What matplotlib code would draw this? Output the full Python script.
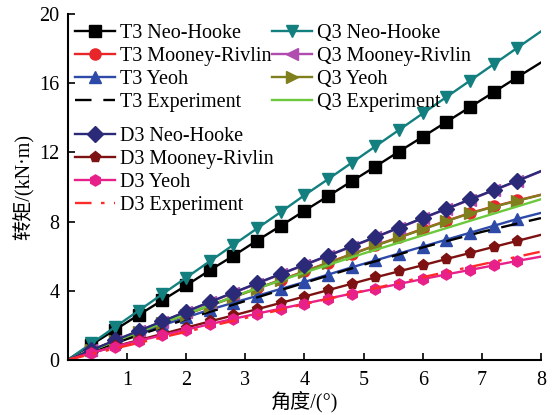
import matplotlib
matplotlib.use('Agg')
import matplotlib.pyplot as plt

# --- Data ---
angle = [0, 0.4, 0.8, 1.2, 1.6, 2.0, 2.4, 2.8, 3.2, 3.6, 4.0,
         4.4, 4.8, 5.2, 5.6, 6.0, 6.4, 6.8, 7.2, 7.6, 8.0]

t3_neo = [0, 0.88, 1.74, 2.60, 3.45, 4.30, 5.18, 6.02, 6.90, 7.75, 8.62,
          9.47, 10.33, 11.18, 12.05, 12.90, 13.76, 14.62, 15.48, 16.35, 17.20]
t3_mooney = [0, 0.57, 1.10, 1.62, 2.14, 2.64, 3.14, 3.64, 4.14, 4.62, 5.12,
             5.62, 6.12, 6.62, 7.09, 7.57, 8.04, 8.49, 8.87, 9.22, 9.55]
t3_yeoh = [0, 0.55, 1.05, 1.55, 2.00, 2.45, 2.90, 3.30, 3.70, 4.10, 4.50,
           4.93, 5.35, 5.75, 6.15, 6.55, 6.95, 7.35, 7.75, 8.15, 8.50]
t3_exp_x = [0, 1, 2, 3, 4, 5, 6, 7, 8]
t3_exp = [0, 1.20, 2.35, 3.40, 4.45, 5.50, 6.50, 7.40, 8.20]

q3_neo = [0, 0.95, 1.90, 2.85, 3.80, 4.75, 5.70, 6.65, 7.60, 8.55, 9.52,
          10.45, 11.40, 12.35, 13.30, 14.25, 15.20, 16.15, 17.10, 18.05, 19.00]
q3_mooney = [0, 0.54, 1.11, 1.66, 2.21, 2.77, 3.33, 3.87, 4.41, 4.95, 5.48,
             6.01, 6.55, 7.08, 7.63, 8.18, 8.72, 9.26, 9.80, 10.34, 10.90]
q3_yeoh = [0, 0.55, 1.08, 1.60, 2.12, 2.62, 3.12, 3.62, 4.12, 4.60, 5.10,
           5.60, 6.10, 6.60, 7.07, 7.55, 8.02, 8.47, 8.85, 9.20, 9.54]
q3_exp_x = [0, 1, 2, 3, 4, 5, 6, 7, 8]
q3_exp = [0, 1.35, 2.65, 3.90, 5.05, 6.15, 7.20, 8.25, 9.29]

d3_neo = [0, 0.56, 1.13, 1.68, 2.23, 2.79, 3.35, 3.89, 4.43, 4.97, 5.50,
          6.03, 6.57, 7.10, 7.65, 8.20, 8.74, 9.28, 9.82, 10.36, 10.92]
d3_mooney = [0, 0.40, 0.78, 1.14, 1.50, 1.86, 2.22, 2.57, 2.93, 3.29, 3.66,
             4.03, 4.40, 4.77, 5.12, 5.47, 5.83, 6.18, 6.53, 6.88, 7.23]
d3_yeoh = [0, 0.40, 0.76, 1.10, 1.42, 1.74, 2.06, 2.37, 2.67, 2.96, 3.25,
           3.54, 3.83, 4.11, 4.39, 4.67, 4.94, 5.20, 5.46, 5.72, 5.97]
d3_exp_x = [0, 1, 2, 3, 4, 5, 6, 7, 8]
d3_exp = [0, 0.82, 1.62, 2.42, 3.22, 3.99, 4.78, 5.52, 6.26]

x_ticks = [1, 2, 3, 4, 5, 6, 7, 8]
y_ticks = [0, 4, 8, 12, 16, 20]

# --- Fonts ---
plt.rcParams['font.family'] = ['Liberation Serif', 'Noto Sans CJK SC']
plt.rcParams['font.size'] = 14.5

fig = plt.figure(figsize=(5.56, 4.15), dpi=100)
ax = fig.add_axes([0.122, 0.133, 0.851, 0.833])

mk = dict(markevery=slice(1, -1), markersize=8, linewidth=1.7)

# --- T3 ---
l_t3n, = ax.plot(angle, t3_neo, color='black', marker='s', **mk)
l_t3m, = ax.plot(angle, t3_mooney, color='#e8262a', marker='o', **mk)
l_t3y, = ax.plot(angle, t3_yeoh, color='#2e4aa8', marker='^', **mk)
l_t3e, = ax.plot(t3_exp_x, t3_exp, color='black', linewidth=1.7, dashes=(7, 5))

# --- Q3 ---
l_q3n, = ax.plot(angle, q3_neo, color='#137f7f', marker='v', **mk)
l_q3m, = ax.plot(angle, q3_mooney, color='#b04cb0', marker='<', **mk)
l_q3y, = ax.plot(angle, q3_yeoh, color='#7f7f1e', marker='>', **mk)
l_q3e, = ax.plot(q3_exp_x, q3_exp, color='#6cc83c', linewidth=1.7)

# --- D3 ---
l_d3n, = ax.plot(angle, d3_neo, color='#2a2a78', marker='D', **mk)
l_d3m, = ax.plot(angle, d3_mooney, color='#7e1212', marker='p', **mk)
l_d3y, = ax.plot(angle, d3_yeoh, color='#e8208a', marker='h', **mk)
l_d3e, = ax.plot(d3_exp_x, d3_exp, color='#ff2a2a', linewidth=1.7,
                 dashes=(7, 4, 1.5, 4, 1.5, 4))

# --- Axes styling ---
ax.set_xlim(0, 8)
ax.set_ylim(0, 20)
ax.set_xticks(x_ticks)
ax.set_yticks(y_ticks)
ax.tick_params(direction='in', length=5, width=1.2, labelsize=14.5)
ax.tick_params(axis='x', pad=8)
ax.tick_params(axis='y', pad=6)
for s in ['top', 'right']:
    ax.spines[s].set_visible(False)
for s in ['left', 'bottom']:
    ax.spines[s].set_linewidth(1.5)

ax.set_xlabel('角度/(°)', fontsize=14.5, labelpad=1)
ax.set_ylabel('转矩/(kN·m)', fontsize=14.5, labelpad=3)

# --- Legends ---
leg_kw = dict(frameon=False, fontsize=14.5, handlelength=2.0, handletextpad=0.25,
              labelspacing=0.2, borderpad=0, borderaxespad=0)
leg1 = ax.legend([l_t3n, l_t3m, l_t3y, l_t3e],
                 ['T3 Neo-Hooke', 'T3 Mooney-Rivlin', 'T3 Yeoh', 'T3 Experiment'],
                 loc='upper left', bbox_to_anchor=(75 / 556, 1 - 24 / 415),
                 bbox_transform=fig.transFigure, **leg_kw)
ax.add_artist(leg1)
leg2 = ax.legend([l_q3n, l_q3m, l_q3y, l_q3e],
                 ['Q3 Neo-Hooke', 'Q3 Mooney-Rivlin', 'Q3 Yeoh', 'Q3 Experiment'],
                 loc='upper left', bbox_to_anchor=(272 / 556, 1 - 24 / 415),
                 bbox_transform=fig.transFigure, **leg_kw)
ax.add_artist(leg2)
ax.legend([l_d3n, l_d3m, l_d3y, l_d3e],
          ['D3 Neo-Hooke', 'D3 Mooney-Rivlin', 'D3 Yeoh', 'D3 Experiment'],
          loc='upper left', bbox_to_anchor=(75 / 556, 1 - 127 / 415),
          bbox_transform=fig.transFigure, **leg_kw)

plt.savefig('out.png', dpi=100)
plt.close(fig)
